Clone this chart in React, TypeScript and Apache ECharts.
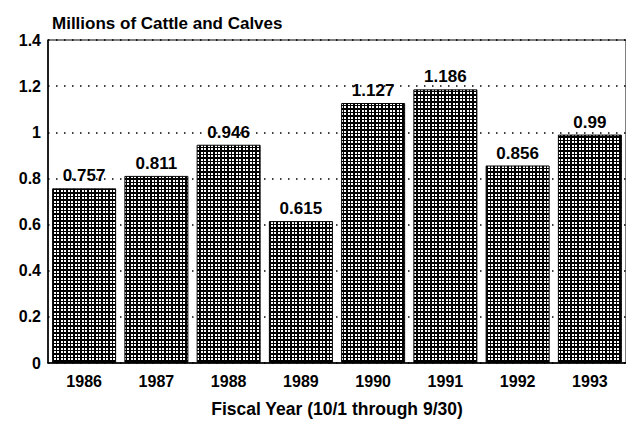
import React, { useEffect, useRef } from "react";
import * as echarts from "echarts";

const categories = ["1986", "1987", "1988", "1989", "1990", "1991", "1992", "1993"];
const values = [0.757, 0.811, 0.946, 0.615, 1.127, 1.186, 0.856, 0.99];
const yTicks = [0, 0.2, 0.4, 0.6, 0.8, 1, 1.2, 1.4];

function makePattern(): HTMLCanvasElement {
  const c = document.createElement("canvas");
  c.width = 7;
  c.height = 7;
  const ctx = c.getContext("2d")!;
  ctx.fillStyle = "#000";
  ctx.fillRect(0, 0, 7, 7);
  ctx.fillStyle = "#fff";
  for (const x of [1, 5]) {
    for (const y of [1, 5]) {
      ctx.fillRect(x, y, 2, 2);
    }
  }
  return c;
}

export default function App() {
  const ref = useRef<HTMLDivElement>(null);
  useEffect(() => {
    if (!ref.current) return;
    const chart = echarts.init(ref.current, undefined, { renderer: "svg" });
    const font = "'Liberation Sans', Arial, sans-serif";
    chart.setOption({
      animation: false,
      backgroundColor: "#fff",
      title: {
        text: "Millions of Cattle and Calves",
        left: 47,
        top: 10,
        textStyle: { fontFamily: font, fontWeight: "bold", fontSize: 17, color: "#000" },
      },
      grid: {
        left: 48,
        top: 40,
        width: 584,
        height: 326,
        show: true,
        borderColor: "#000",
        borderWidth: 1,
        backgroundColor: "transparent",
        containLabel: false,
      },
      xAxis: {
        type: "category",
        data: categories,
        name: "Fiscal Year (10/1 through 9/30)",
        nameLocation: "middle",
        nameGap: 37,
        nameTextStyle: { fontFamily: font, fontWeight: "bold", fontSize: 17.5, color: "#000" },
        axisLine: { lineStyle: { color: "#000", width: 1.5 } },
        axisTick: { show: false },
        axisLabel: { fontFamily: font, fontWeight: "bold", fontSize: 16, color: "#000", margin: 10 },
      },
      yAxis: {
        type: "value",
        min: yTicks[0],
        max: yTicks[yTicks.length - 1],
        interval: 0.2,
        axisLine: { show: true, lineStyle: { color: "#000", width: 1.5 } },
        axisTick: { show: false },
        axisLabel: {
          fontFamily: font,
          fontWeight: "bold",
          fontSize: 16,
          color: "#000",
          margin: 7,
          formatter: (v: number) => String(Math.round(v * 10) / 10),
        },
        splitLine: { show: true, lineStyle: { color: "#000", type: [1.5, 6.5], width: 1.5, opacity: 1 } },
      },
      series: [
        {
          type: "bar",
          data: values,
          barWidth: 64,
          z: 3,
          itemStyle: {
            color: { image: makePattern(), repeat: "repeat" },
            borderColor: "#000",
            borderWidth: 1,
          },
          label: {
            show: true,
            position: "top",
            distance: 4,
            fontFamily: font,
            fontWeight: "bold",
            fontSize: 17,
            color: "#000",
            formatter: (p: any) => String(p.value),
          },
        },
      ],
    });
    return () => chart.dispose();
  }, []);
  return <div ref={ref} style={{ width: 626, height: 423, position: "absolute", left: 0, top: 0 }} />;
}
